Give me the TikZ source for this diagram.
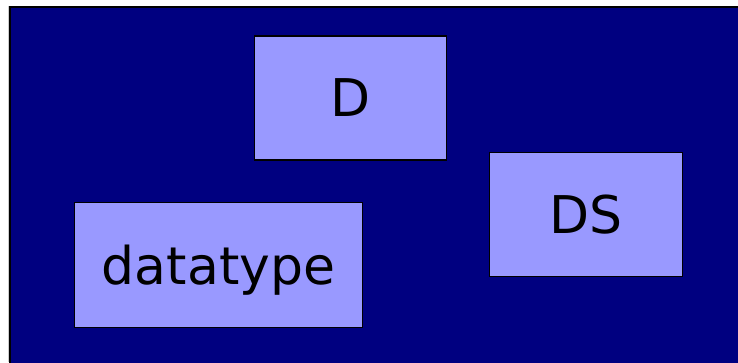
\documentclass[tikz,border=0pt]{standalone}
\usepackage{fontspec}
\setmainfont{DejaVu Sans}
\definecolor{navybg}{HTML}{000080}
\definecolor{boxfill}{HTML}{9999FF}
\begin{document}
\begin{tikzpicture}[x=1pt,y=-1pt,
  labelbox/.style={draw=black,line width=1.8pt,fill=boxfill,inner sep=0pt,
    text depth=0pt,font=\fontsize{52}{60}\selectfont,text=black}]
\useasboundingbox (0,0) rectangle (738,362);
\fill[white] (0,0) rectangle (738,362);
\draw[gray!40,line width=1pt] (8,6) -- (8,362);
\draw[black,line width=2pt,fill=navybg] (10,7) rectangle (745,370);
\node[labelbox,minimum width=192pt,minimum height=124pt] (d) at (350.5,98) {D};
\node[labelbox,minimum width=193pt,minimum height=124pt] (ds) at (586,214.5) {DS};
\node[labelbox,minimum width=288pt,minimum height=125pt] (dt) at (218.5,265) {datatype};
\end{tikzpicture}
\end{document}
